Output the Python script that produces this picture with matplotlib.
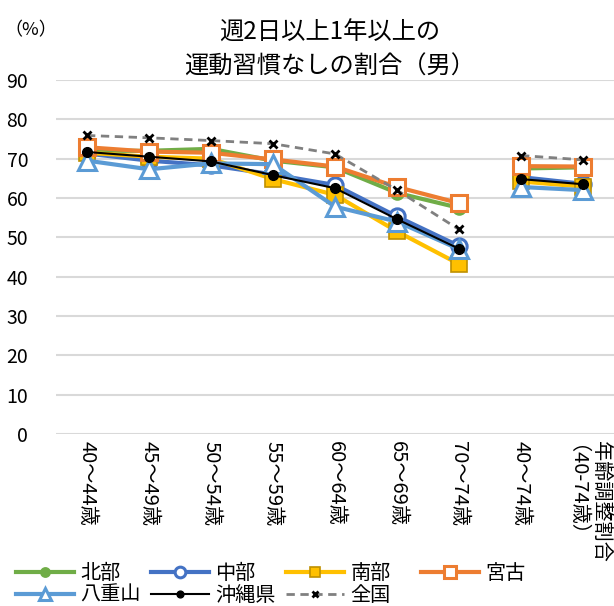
import matplotlib
matplotlib.use("Agg")
import matplotlib.pyplot as plt
import numpy as np

plt.rcParams["font.family"] = ["Noto Sans CJK JP", "DejaVu Sans"]

categories = ["40～44歳", "45～49歳", "50～54歳", "55～59歳", "60～64歳",
              "65～69歳", "70～74歳", "40～74歳", "年齢調整割合\n（40-74歳）"]

hokubu = [72.0, 72.0, 72.5, 69.5, 67.8, 61.3, 57.5, 67.5, 67.8]
chubu = [71.3, 69.5, 68.3, 66.0, 63.3, 55.3, 47.8, 65.3, 63.6]
nanbu = [71.5, 70.5, 70.0, 64.8, 60.8, 51.5, 43.2, 64.2, 62.9]
miyako = [72.9, 71.8, 71.5, 69.8, 68.0, 62.8, 58.7, 68.1, 68.0]
yaeyama = [69.5, 67.3, 68.8, 68.6, 57.8, 54.0, 47.0, 62.8, 62.0]
okinawa = [71.7, 70.5, 69.3, 65.8, 62.5, 54.6, 47.1, 64.8, 63.5]
zenkoku = [75.9, 75.3, 74.6, 73.8, 71.2, 62.0, 52.0, 70.8, 69.7]

series = [
    ("北部", hokubu, dict(color="#70AD47", lw=3, marker="o", ms=9,
                          mfc="#70AD47", mec="#70AD47", mew=1.5)),
    ("中部", chubu, dict(color="#4472C4", lw=3, marker="o", ms=11,
                         mfc="white", mec="#4472C4", mew=2.2)),
    ("南部", nanbu, dict(color="#FFC000", lw=3, marker="s", ms=11,
                         mfc="#FFC000", mec="#BF9000", mew=1.2)),
    ("宮古", miyako, dict(color="#ED7D31", lw=3, marker="s", ms=12,
                          mfc="white", mec="#ED7D31", mew=2.2)),
    ("八重山", yaeyama, dict(color="#5B9BD5", lw=3, marker="^", ms=13,
                            mfc="white", mec="#5B9BD5", mew=2.2)),
    ("沖縄県", okinawa, dict(color="black", lw=1.5, marker="o", ms=7,
                            mfc="black", mec="black")),
    ("全国", zenkoku, dict(color="#808080", lw=2, ls=(0, (3, 2)), marker="x",
                          ms=6, mfc="black", mec="black", mew=2)),
]

x = np.arange(len(categories))

fig = plt.figure(figsize=(6.14, 6.06), dpi=100)
ax = fig.add_axes([56 / 614, 1 - 434 / 606, 1 - 56 / 614, (434 - 80) / 606])

handles = []
for name, vals, style in series:
    vals = np.array(vals)
    # age bands, then the 40-74 totals as a separate segment
    h, = ax.plot(x[:7], vals[:7], label=name, **style)
    ax.plot(x[7:], vals[7:], **style)
    handles.append(h)

ax.set_xlim(-0.5, 8.5)
ax.set_ylim(0, 90)
ax.set_yticks(range(0, 91, 10))
ax.yaxis.grid(True, color="#d9d9d9", lw=1.5)
ax.set_axisbelow(True)
for s in ax.spines.values():
    s.set_visible(False)
ax.tick_params(axis="y", length=0, pad=20, labelsize=14)
ax.tick_params(axis="x", length=0, pad=5)
ax.set_xticks(x)
ax.set_xticklabels(categories, rotation=-90, fontsize=14.5, va="top",
                   ha="center", linespacing=1.9)

fig.text(0.537, 0.918, "週2日以上1年以上の\n運動習慣なしの割合（男）",
         ha="center", va="center", fontsize=17.5, linespacing=1.35)
fig.text(0.008, 0.95, "（%）", ha="left", va="center", fontsize=13)

col_x = [6, 141, 276, 411]
for c in range(4):
    hs = handles[c::4]
    fig.legend(handles=hs, labels=[h.get_label() for h in hs],
               loc="upper left", bbox_to_anchor=(col_x[c] / 614, 1 - 553 / 606),
               frameon=False, fontsize=14.5, handlelength=2.9,
               handletextpad=0.3, labelspacing=0.05, borderpad=0,
               markerscale=0.7)

fig.savefig("out.png", dpi=100)
